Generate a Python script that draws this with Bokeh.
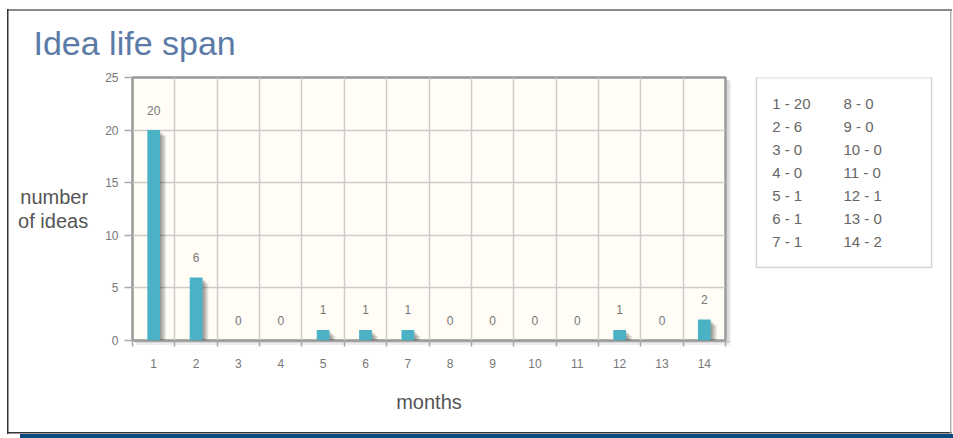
from bokeh.plotting import figure
from bokeh.layouts import row
from bokeh.models import Range1d, FixedTicker, ColumnDataSource
from bokeh.core.properties import value
from bokeh.embed import file_html
from bokeh.resources import INLINE

# ---- data ----
months = list(range(1, 15))
ideas = [20, 6, 0, 0, 1, 1, 1, 0, 0, 0, 0, 1, 0, 2]
y_ticks = [0, 5, 10, 15, 20, 25]
title_text = "Idea life span"
y_label_text = "number\nof ideas"
x_label_text = "months"

FONT = "Liberation Sans"
BAR = "#4bb2c5"

W, H = 953, 438
W1 = 745                      # main chart figure width
ML, MR, MT, MB = 132, 20, 77, 98

# page decoration (outer frame, blue strip, plot-frame shadow) as CSS backgrounds
rects = [
    (7, 9, 1.5, 425, "#333333"),
    (7, 9, 945, 2, "#8a8a8a"),
    (950, 9, 1.5, 425, "#b4b4b4"),
    (7, 432, 945, 1.5, "#333333"),
    (20, 434, 933, 4, "#0d4a80"),
    (727, 80, 2, 262, "rgba(0,0,0,0.16)"),
    (729, 81, 2, 262, "rgba(0,0,0,0.07)"),
    (135, 341, 594, 2, "rgba(0,0,0,0.16)"),
    (136, 343, 594, 2, "rgba(0,0,0,0.07)"),
]
styles = {
    "background-image": ", ".join(f"linear-gradient({c},{c})" for *_, c in rects),
    "background-position": ", ".join(f"{x}px {y}px" for x, y, *_ in rects),
    "background-size": ", ".join(f"{w}px {h}px" for _, _, w, h, _ in rects),
    "background-repeat": "no-repeat",
}

p = figure(width=W1, height=H, output_backend="svg", toolbar_location=None,
           x_range=Range1d(0.5, 14.5), y_range=Range1d(0, 25),
           min_border_left=ML, min_border_right=MR, min_border_top=MT,
           min_border_bottom=MB, title=title_text)
p.background_fill_color = "#fffdf6"
p.border_fill_color = None
p.outline_line_color = "#999999"
p.outline_line_width = 2.5

# title
p.title.text_font = FONT
p.title.text_font_size = "34px"
p.title.text_font_style = "normal"
p.title.text_color = "#5b7ba6"
p.title.align = "left"
p.title.offset = -99
p.title.standoff = 32

bounds = [m - 0.5 for m in months] + [months[-1] + 0.5]

# axes
p.xaxis.ticker = FixedTicker(ticks=months, minor_ticks=bounds)
p.yaxis.ticker = FixedTicker(ticks=y_ticks)
p.xgrid.ticker = FixedTicker(ticks=bounds)
p.ygrid.ticker = FixedTicker(ticks=y_ticks)
for g in (p.xgrid, p.ygrid):
    g.grid_line_color = "#cccccc"
    g.grid_line_width = 1.5

for ax in (p.xaxis, p.yaxis):
    ax.axis_line_color = None
    ax.major_label_text_font = FONT
    ax.major_label_text_font_size = "12px"
    ax.major_label_text_color = "#777777"
    ax.major_tick_line_color = "#aaaaaa"
    ax.major_tick_line_width = 1.5
    ax.major_tick_in = 0
    ax.axis_label_text_font = FONT
    ax.axis_label_text_font_size = "20px"
    ax.axis_label_text_font_style = "normal"
    ax.axis_label_text_color = "#555555"

p.xaxis.major_tick_out = 0
p.xaxis.minor_tick_out = 6
p.xaxis.minor_tick_in = 0
p.xaxis.minor_tick_line_color = "#aaaaaa"
p.xaxis.minor_tick_line_width = 1.5
p.xaxis.major_label_standoff = 12
p.xaxis.axis_label = x_label_text
p.xaxis.axis_label_standoff = 20

p.yaxis.major_tick_out = 8
p.yaxis.minor_tick_line_color = None
p.yaxis.major_label_standoff = 6
p.yaxis.axis_label = y_label_text
p.yaxis.axis_label_standoff = 14
p.yaxis.axis_label_text_line_height = 1.1
yax = p.yaxis[0]
if "axis_label_orientation" in yax.properties():
    yax.axis_label_orientation = "horizontal"

# bar shadows (jqPlot-like)
px_x = (W1 - ML - MR) / 14.0
px_y = (H - MT - MB) / 25.0
for k in range(1, 6):
    sx = [m + 1.2 * k / px_x for m in months]
    st = [max(v - 1.2 * k / px_y, 0) if v > 0 else 0 for v in ideas]
    p.vbar(x=sx, top=st, bottom=0, width=0.3, fill_color="black", fill_alpha=0.09,
           line_color=None)

src = ColumnDataSource(dict(x=months, top=ideas, lab=[str(v) for v in ideas]))
p.vbar(x="x", top="top", bottom=0, width=0.3, source=src, fill_color=BAR, line_color=None)
p.text(x="x", y="top", text="lab", source=src, text_align="center", text_baseline="middle",
       y_offset=-20, text_font=value(FONT), text_font_size="12px", text_color="#777777")

# legend box (month - count list) as a small second figure
# columns are 71.3px apart, rows 22.9px apart
W2 = W - W1
q = figure(width=W2, height=H, output_backend="svg", toolbar_location=None,
           x_range=Range1d(-0.3043, 2.318), y_range=Range1d(10.336, -1.148),
           min_border_left=5, min_border_right=16, min_border_top=MT,
           min_border_bottom=MB)
q.axis.visible = False
q.grid.visible = False
q.background_fill_color = None
q.border_fill_color = None
q.outline_line_color = None
q.quad(left=-0.2202, right=2.234, top=-1.148, bottom=7.148, fill_color="white",
       line_color="#d4d4d4", line_width=1.5)
leg_col = [i // 7 for i in range(len(months))]
leg_row = [i % 7 for i in range(len(months))]
leg_txt = [f"{m} - {v}" for m, v in zip(months, ideas)]
q.text(x=leg_col, y=leg_row, text=leg_txt, text_align="left", text_baseline="middle",
       text_font=value(FONT), text_font_size="15px", text_color="#666666")

layout = row(p, q, styles=styles)
open("out.html", "w").write(file_html(layout, INLINE))
